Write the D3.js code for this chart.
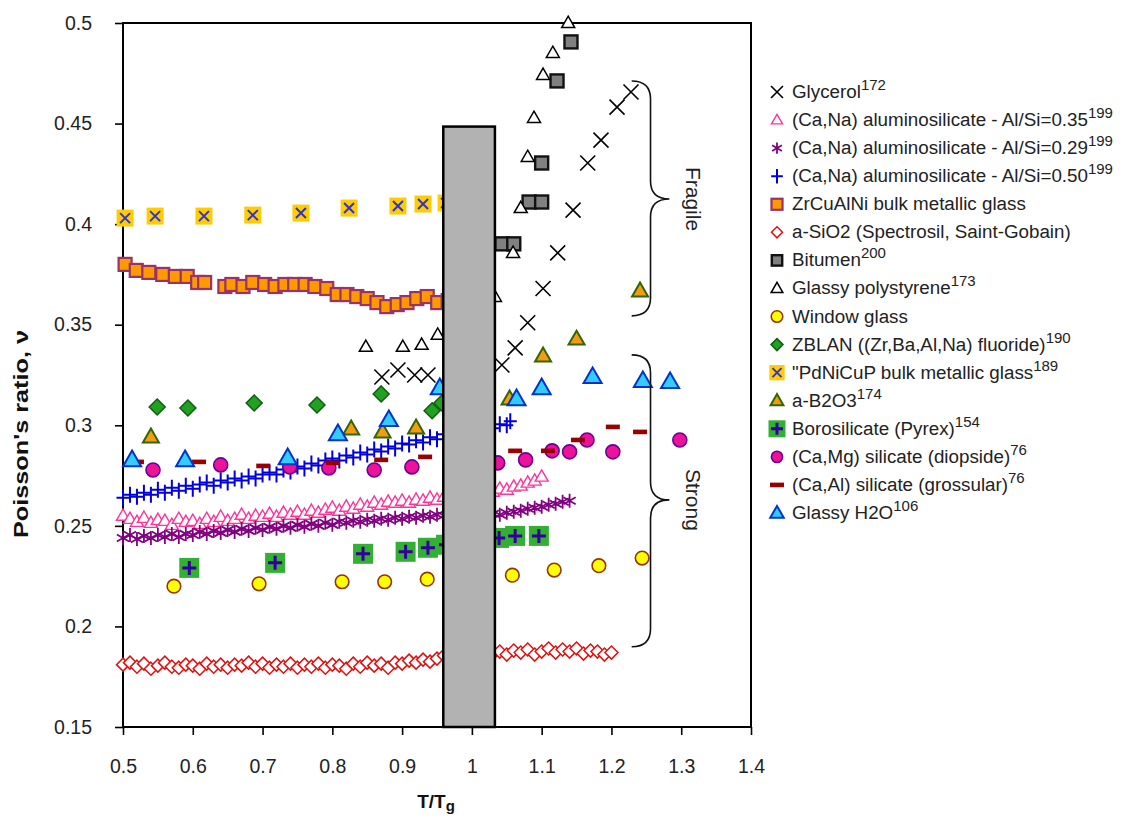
<!DOCTYPE html>
<html><head><meta charset="utf-8">
<script src="https://cdn.jsdelivr.net/npm/d3@7"></script>
<style>body{margin:0;background:#fff}svg{display:block;font-family:"Liberation Sans",Arial,sans-serif}</style>
</head><body><svg id="c" width="1146" height="818"></svg>
<script>
// ---------------- data ----------------
const xTicks = [0.5,0.6,0.7,0.8,0.9,1.0,1.1,1.2,1.3,1.4];
const yTicks = [0.15,0.2,0.25,0.3,0.35,0.4,0.45,0.5];

const glycerol = [[0.871,0.324],[0.894,0.3275],[0.918,0.325],[0.937,0.325],[1.043,0.330],[1.062,0.3385],[1.080,0.351],[1.102,0.368],[1.123,0.3857],[1.145,0.407],[1.166,0.4304],[1.185,0.4418],[1.208,0.4582],[1.228,0.4657]];

const alsi035 = [[0.50,0.255],[0.51,0.2535],[0.52,0.252],[0.53,0.254],[0.54,0.2515],[0.55,0.253],[0.56,0.2525],[0.57,0.2505],[0.58,0.2535],[0.59,0.252],[0.60,0.2525],[0.61,0.251],[0.62,0.2535],[0.63,0.252],[0.64,0.2545],[0.65,0.2525],[0.66,0.2535],[0.67,0.2555],[0.68,0.2535],[0.69,0.255],[0.70,0.2545],[0.71,0.256],[0.72,0.2545],[0.73,0.2565],[0.74,0.2555],[0.75,0.257],[0.76,0.2555],[0.77,0.2575],[0.78,0.2565],[0.79,0.258],[0.80,0.259],[0.81,0.2575],[0.82,0.2595],[0.83,0.2585],[0.84,0.2605],[0.85,0.2595],[0.86,0.2615],[0.87,0.2605],[0.88,0.262],[0.89,0.2615],[0.90,0.2625],[0.91,0.2615],[0.92,0.263],[0.93,0.2625],[0.94,0.264],[0.95,0.263],[0.96,0.2645],[0.97,0.264],[0.98,0.2655],[0.99,0.265],[1.00,0.266],[1.01,0.2665],[1.02,0.2675],[1.03,0.267],[1.04,0.2685],[1.05,0.268],[1.06,0.2695],[1.07,0.270],[1.08,0.2715],[1.09,0.2725],[1.10,0.2745]];

const alsi029 = [[0.50,0.244],[0.51,0.2455],[0.52,0.2435],[0.53,0.245],[0.54,0.244],[0.55,0.2455],[0.56,0.2445],[0.57,0.246],[0.58,0.2445],[0.59,0.246],[0.60,0.2455],[0.61,0.247],[0.62,0.246],[0.63,0.2475],[0.64,0.2465],[0.65,0.248],[0.66,0.247],[0.67,0.2485],[0.68,0.2475],[0.69,0.249],[0.70,0.248],[0.71,0.2495],[0.72,0.2485],[0.73,0.250],[0.74,0.249],[0.75,0.2505],[0.76,0.2495],[0.77,0.251],[0.78,0.250],[0.79,0.2515],[0.80,0.2505],[0.81,0.252],[0.82,0.2515],[0.83,0.2525],[0.84,0.252],[0.85,0.253],[0.86,0.2525],[0.87,0.2535],[0.88,0.253],[0.89,0.254],[0.90,0.2535],[0.91,0.2545],[0.92,0.254],[0.93,0.255],[0.94,0.2545],[0.95,0.2555],[0.96,0.255],[0.97,0.2555],[0.98,0.255],[0.99,0.2555],[1.00,0.2555],[1.01,0.256],[1.02,0.2555],[1.03,0.256],[1.04,0.2555],[1.05,0.2565],[1.06,0.257],[1.07,0.2575],[1.08,0.2585],[1.09,0.259],[1.10,0.2595],[1.11,0.2605],[1.12,0.261],[1.13,0.262],[1.14,0.2625]];

const alsi050 = [[0.50,0.264],[0.51,0.2655],[0.52,0.2645],[0.53,0.2665],[0.54,0.2655],[0.55,0.268],[0.56,0.2665],[0.57,0.269],[0.58,0.2675],[0.59,0.270],[0.60,0.2685],[0.61,0.2705],[0.62,0.2715],[0.63,0.270],[0.64,0.2725],[0.65,0.2715],[0.66,0.2735],[0.67,0.2725],[0.68,0.2745],[0.69,0.2735],[0.70,0.2755],[0.71,0.2765],[0.72,0.2755],[0.73,0.278],[0.74,0.277],[0.75,0.2795],[0.76,0.2785],[0.77,0.281],[0.78,0.280],[0.79,0.2825],[0.80,0.2835],[0.81,0.2825],[0.82,0.285],[0.83,0.284],[0.84,0.2865],[0.85,0.2855],[0.86,0.288],[0.87,0.287],[0.88,0.2895],[0.89,0.2885],[0.90,0.291],[0.91,0.2905],[0.92,0.2925],[0.93,0.2915],[0.94,0.294],[0.95,0.293],[0.96,0.2955],[0.97,0.295],[0.98,0.297],[0.99,0.2965],[1.00,0.298],[1.01,0.2975],[1.02,0.299],[1.03,0.2985],[1.04,0.3005],[1.05,0.300],[1.055,0.302]];

const zrcualni = [[0.503,0.380],[0.519,0.377],[0.537,0.376],[0.557,0.375],[0.575,0.374],[0.592,0.374],[0.607,0.371],[0.617,0.371],[0.646,0.369],[0.656,0.370],[0.672,0.369],[0.686,0.371],[0.703,0.370],[0.718,0.369],[0.732,0.370],[0.746,0.370],[0.761,0.370],[0.775,0.369],[0.792,0.368],[0.807,0.365],[0.821,0.365],[0.835,0.364],[0.850,0.363],[0.864,0.361],[0.878,0.359],[0.893,0.360],[0.907,0.361],[0.921,0.363],[0.936,0.364],[0.951,0.361],[0.966,0.362]];

const asio2 = [[0.50,0.181],[0.51,0.182],[0.52,0.180],[0.53,0.1815],[0.54,0.179],[0.55,0.1805],[0.56,0.182],[0.57,0.180],[0.58,0.1795],[0.59,0.181],[0.60,0.1805],[0.61,0.179],[0.62,0.1815],[0.63,0.180],[0.64,0.181],[0.65,0.1795],[0.66,0.181],[0.67,0.1805],[0.68,0.182],[0.69,0.180],[0.70,0.1815],[0.71,0.1795],[0.72,0.181],[0.73,0.180],[0.74,0.1815],[0.75,0.1795],[0.76,0.181],[0.77,0.180],[0.78,0.1815],[0.79,0.1795],[0.80,0.181],[0.81,0.1805],[0.82,0.179],[0.83,0.1815],[0.84,0.180],[0.85,0.182],[0.86,0.1805],[0.87,0.1815],[0.88,0.1795],[0.89,0.182],[0.90,0.1815],[0.91,0.183],[0.92,0.182],[0.93,0.1835],[0.94,0.1825],[0.95,0.184],[0.96,0.1855],[0.97,0.185],[0.98,0.186],[0.99,0.186],[1.00,0.1865],[1.01,0.186],[1.02,0.187],[1.03,0.1865],[1.04,0.1875],[1.05,0.186],[1.06,0.188],[1.07,0.187],[1.08,0.1885],[1.09,0.186],[1.10,0.1875],[1.11,0.189],[1.12,0.187],[1.13,0.1885],[1.14,0.1875],[1.15,0.189],[1.16,0.1865],[1.17,0.188],[1.18,0.1875],[1.19,0.186],[1.20,0.187]];

const bitumen = [[1.043,0.3902],[1.060,0.3902],[1.082,0.411],[1.100,0.411],[1.100,0.4304],[1.122,0.4712],[1.142,0.4906]];

const polystyrene = [[0.848,0.339],[0.901,0.339],[0.928,0.340],[0.951,0.345],[1.033,0.3638],[1.059,0.3857],[1.070,0.408],[1.080,0.4334],[1.089,0.4528],[1.102,0.4742],[1.116,0.4851],[1.138,0.500]];

const windowGlass = [[0.573,0.2200],[0.695,0.2212],[0.814,0.2222],[0.875,0.2222],[0.936,0.2235],[1.058,0.2255],[1.118,0.2280],[1.182,0.2302],[1.244,0.2340]];

const zblan = [[0.549,0.3091],[0.593,0.3086],[0.688,0.3111],[0.778,0.3101],[0.870,0.3156],[0.943,0.3072],[0.957,0.3111]];

const pdnicup = [[0.503,0.403],[0.546,0.404],[0.616,0.404],[0.686,0.4045],[0.755,0.4055],[0.824,0.408],[0.894,0.409],[0.930,0.410],[0.963,0.4105]];

const b2o3 = [[0.540,0.2942],[0.827,0.2982],[0.872,0.2967],[0.920,0.2987],[1.054,0.3131],[1.102,0.3345],[1.150,0.3429],[1.241,0.3668]];

const pyrex = [[0.595,0.2291],[0.718,0.2316],[0.844,0.2361],[0.905,0.2371],[0.937,0.2391],[0.963,0.2406],[1.039,0.2440],[1.062,0.2450],[1.096,0.2450]];

const diopside = [[0.543,0.2778],[0.640,0.2803],[0.739,0.2793],[0.795,0.2788],[0.860,0.2778],[0.914,0.2793],[1.037,0.2813],[1.077,0.2828],[1.115,0.2873],[1.140,0.2868],[1.165,0.2927],[1.202,0.2868],[1.298,0.2927]];

const grossular = [[0.520,0.2818],[0.609,0.2818],[0.701,0.2798],[0.801,0.2813],[0.870,0.2828],[0.933,0.2843],[1.062,0.2873],[1.109,0.2873],[1.152,0.2927],[1.202,0.2992],[1.241,0.2967]];

const h2o = [[0.513,0.2828],[0.589,0.2828],[0.736,0.2838],[0.808,0.2957],[0.881,0.3027],[0.954,0.3186],[1.064,0.3131],[1.100,0.3186],[1.173,0.3241],[1.245,0.3221],[1.284,0.3216]];

const seriesNames = ["Glycerol","(Ca,Na) aluminosilicate - Al/Si=0.35","(Ca,Na) aluminosilicate - Al/Si=0.29","(Ca,Na) aluminosilicate - Al/Si=0.50","ZrCuAlNi bulk metallic glass","a-SiO2 (Spectrosil, Saint-Gobain)","Bitumen","Glassy polystyrene","Window glass","ZBLAN ((Zr,Ba,Al,Na) fluoride)","\"PdNiCuP bulk metallic glass","a-B2O3","Borosilicate (Pyrex)","(Ca,Mg) silicate (diopside)","(Ca,Al) silicate (grossular)","Glassy H2O"];
const seriesRefs = ["172","199","199","199","","","200","173","","190","189","174","154","76","76","106"];

// Tg transition band (T/Tg from, to, top ν)
const tgBand = [0.959, 1.033, 0.4485];
// braces: [top ν, tip ν, bottom ν]
const braceLabels = ["Fragile","Strong"];
const braceNu = [[0.4712,0.4125,0.3544],[0.335,0.2629,0.1899]];
const braceT = [1.229, 1.256, 1.283];

// ---------------- drawing ----------------
const svg = d3.select("#c");
const L = 123, R = 751, T = 23, B = 727;
const x = d3.scaleLinear().domain([0.5,1.4]).range([L,R]);
const y = d3.scaleLinear().domain([0.15,0.5]).range([B,T]);

function tri(w){const h=w*0.87;return `M0,${-h*0.6}L${w/2},${h*0.4}L${-w/2},${h*0.4}Z`;}
function cross(s){return `M${-s},${-s}L${s},${s}M${-s},${s}L${s},${-s}`;}
function plus(s,v){v=v||s;return `M${-s},0L${s},0M0,${-v}L0,${v}`;}
function dia(s){return `M0,${-s}L${s},0L0,${s}L${-s},0Z`;}
function ast(s){const a=s*0.87,b=s*0.5;return `M0,${-s}L0,${s}M${-a},${-b}L${a},${b}M${-a},${b}L${a},${-b}`;}

const styles = [
  {draw:(g,k)=>g.append("path").attr("d",cross(7.5*k)).attr("stroke","#000").attr("stroke-width",1.6).attr("fill","none")},
  {draw:(g,k)=>g.append("path").attr("d",tri(13*k)).attr("stroke","#ff3399").attr("stroke-width",1.4).attr("fill","#fff")},
  {draw:(g,k)=>g.append("path").attr("d",ast(7*k)).attr("stroke","#800080").attr("stroke-width",1.8).attr("fill","none")},
  {draw:(g,k)=>g.append("path").attr("d",plus(6.5*k,8*k)).attr("stroke","#0000dd").attr("stroke-width",2).attr("fill","none")},
  {draw:(g,k)=>g.append("rect").attr("x",-6.5*k).attr("y",-6.5*k).attr("width",13*k).attr("height",13*k).attr("fill","#ff9900").attr("stroke","#993366").attr("stroke-width",2.2)},
  {draw:(g,k)=>g.append("path").attr("d",dia(6.5*k)).attr("stroke","#e01010").attr("stroke-width",1.5).attr("fill","#fff")},
  {draw:(g,k)=>g.append("rect").attr("x",-6.5*k).attr("y",-6.5*k).attr("width",13*k).attr("height",13*k).attr("fill","#808080").attr("stroke","#111").attr("stroke-width",2.4)},
  {draw:(g,k)=>g.append("path").attr("d",tri(13*k)).attr("stroke","#000").attr("stroke-width",1.5).attr("fill","#fff")},
  {draw:(g,k)=>g.append("circle").attr("r",6.8*k).attr("fill","#ffff00").attr("stroke","#993300").attr("stroke-width",1.6)},
  {draw:(g,k)=>g.append("path").attr("d",dia(8*k)).attr("stroke","#0f5f0f").attr("stroke-width",1.5).attr("fill","#22a022")},
  {draw:(g,k)=>{g.append("rect").attr("x",-8.5*k).attr("y",-8.5*k).attr("width",17*k).attr("height",17*k).attr("fill","#ffcc00");
    g.append("path").attr("d",cross(5*k)).attr("stroke","#3333cc").attr("stroke-width",2).attr("fill","none");}},
  {draw:(g,k)=>g.append("path").attr("d",tri(16*k)).attr("stroke","#336600").attr("stroke-width",2).attr("fill","#f39c12")},
  {draw:(g,k)=>{g.append("rect").attr("x",-10*k).attr("y",-10*k).attr("width",20*k).attr("height",20*k).attr("fill","#33b033");
    g.append("path").attr("d",plus(7*k)).attr("stroke","#330099").attr("stroke-width",3).attr("fill","none");}},
  {draw:(g,k)=>g.append("circle").attr("r",7*k).attr("fill","#ee1199").attr("stroke","#660099").attr("stroke-width",1.6)},
  {draw:(g,k)=>g.append("rect").attr("x",-7*k).attr("y",-2.3*k).attr("width",14*k).attr("height",4.6*k).attr("fill","#990000")},
  {draw:(g,k)=>g.append("path").attr("d",tri(18*k)).attr("stroke","#0033cc").attr("stroke-width",2).attr("fill","#33ccff")}
];
const seriesData = [glycerol,alsi035,alsi029,alsi050,zrcualni,asio2,bitumen,polystyrene,windowGlass,zblan,pdnicup,b2o3,pyrex,diopside,grossular,h2o];
const legendScale = [0.8,0.85,0.8,0.9,0.85,0.85,0.8,0.9,0.85,0.75,0.9,0.8,0.85,0.8,1,0.75];

// axes ticks
const yAxis = d3.axisLeft(y).tickValues(yTicks).tickSize(8).tickPadding(23).tickFormat(d=>String(+d.toFixed(2)));
const xAxis = d3.axisBottom(x).tickValues(xTicks).tickSize(8).tickPadding(24).tickFormat(d=>String(+d.toFixed(2)));
const gy = svg.append("g").attr("transform",`translate(${L},0)`).call(yAxis);
const gx = svg.append("g").attr("transform",`translate(0,${B})`).call(xAxis);
[gy,gx].forEach(g=>{g.select(".domain").remove();
  g.selectAll(".tick line").attr("stroke","#000").attr("stroke-width",1.6);
  g.selectAll(".tick text").attr("font-size",19.5).attr("fill","#222").attr("font-family","'Liberation Sans',Arial,sans-serif");});

// frame
svg.append("rect").attr("x",L).attr("y",T).attr("width",R-L).attr("height",B-T).attr("fill","none").attr("stroke","#000").attr("stroke-width",2);

// data points
const plot = svg.append("g");
seriesData.forEach((data,i)=>{
  data.forEach(d=>{
    const g = plot.append("g").attr("transform",`translate(${x(d[0])},${y(d[1])})`);
    styles[i].draw(g,1);
  });
});

// Tg band
svg.append("rect").attr("x",x(tgBand[0])).attr("y",y(tgBand[2])).attr("width",x(tgBand[1])-x(tgBand[0])).attr("height",y(0.15)-y(tgBand[2]))
  .attr("fill","#b2b2b2").attr("stroke","#000").attr("stroke-width",2.5);

// braces
braceNu.forEach((b,i)=>{
  const x0=x(braceT[0]), x1=x(braceT[1]), x2=x(braceT[2]);
  const yt=y(b[0]), ym=y(b[1]), yb=y(b[2]); const r=18;
  const d=`M${x0},${yt}Q${x1},${yt} ${x1},${yt+r}L${x1},${ym-r}Q${x1},${ym} ${x2},${ym}Q${x1},${ym} ${x1},${ym+r}L${x1},${yb-r}Q${x1},${yb} ${x0},${yb}`;
  svg.append("path").attr("d",d).attr("fill","none").attr("stroke","#111").attr("stroke-width",1.6);
  svg.append("text").attr("transform",`translate(686,${ym}) rotate(90)`).attr("text-anchor","middle")
    .attr("font-size",21).attr("fill","#222").text(braceLabels[i]);
});

// axis titles
svg.append("text").attr("transform",`translate(28,434) rotate(-90)`).attr("text-anchor","middle")
  .attr("font-size",20).attr("font-weight","bold").attr("fill","#111")
  .attr("textLength",208).attr("lengthAdjust","spacingAndGlyphs").text("Poisson's ratio, \u03bd");
const xt = svg.append("text").attr("x",436).attr("y",808).attr("text-anchor","middle").attr("font-size",19).attr("font-weight","bold").attr("fill","#111");
xt.append("tspan").text("T/T");
xt.append("tspan").attr("font-size",15).attr("dy",3).text("g");

// legend
const lg = svg.append("g");
seriesNames.forEach((name,i)=>{
  const yy = 92 + i*(513-92)/15;
  const g = lg.append("g").attr("transform",`translate(777,${yy})`);
  styles[i].draw(g,legendScale[i]);
  const t = lg.append("text").attr("x",792).attr("y",yy+6).attr("font-size",18.8).attr("fill","#222");
  t.append("tspan").text(name);
  if(seriesRefs[i]) t.append("tspan").attr("font-size",15).attr("dy",-8).text(seriesRefs[i]);
});
</script></body></html>
